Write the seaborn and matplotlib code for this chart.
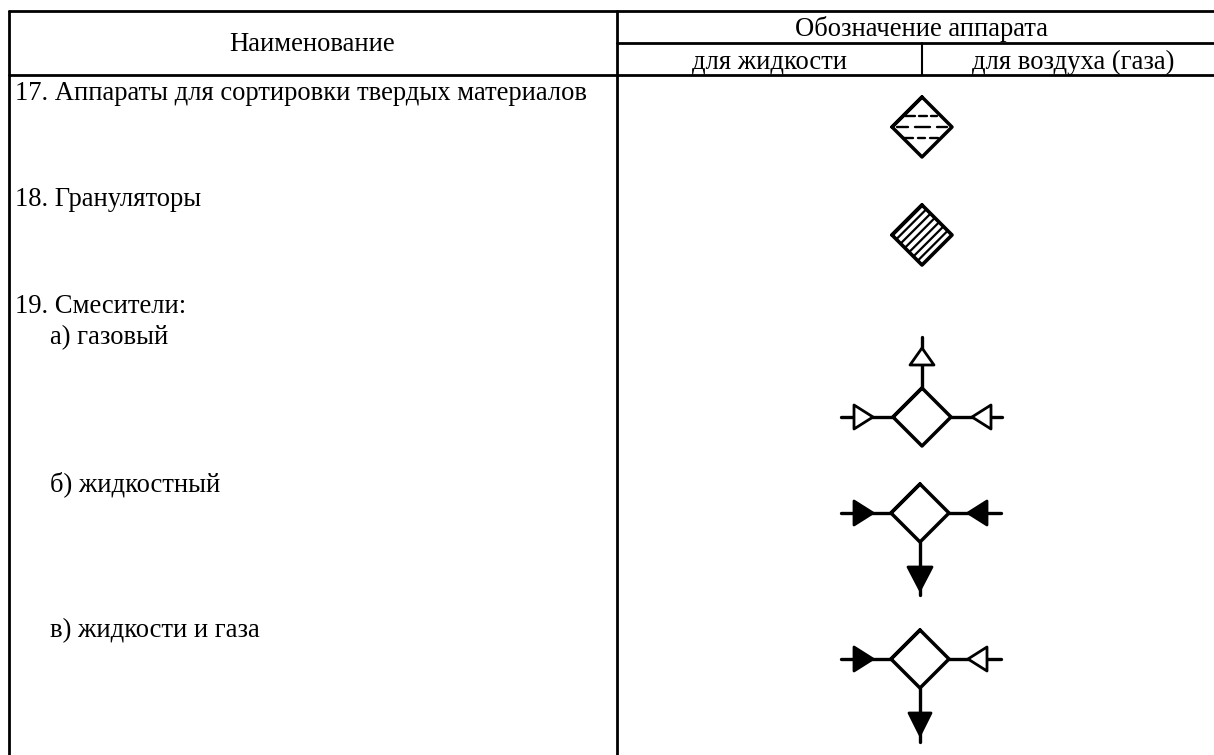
import matplotlib
matplotlib.use("Agg")
import matplotlib.pyplot as plt
import seaborn as sns
import pandas as pd

# table text
header_name = "Наименование"
header_group = "Обозначение аппарата"
header_liquid = "для жидкости"
header_gas = "для воздуха (газа)"
row_labels = ["17. Аппараты для сортировки твердых материалов", "18. Грануляторы", "19. Смесители:",
              "а) газовый", "б) жидкостный", "в) жидкости и газа"]
row_x = [15, 15, 15, 50, 50, 50]
row_y = [99.5, 206.5, 313, 344, 491, 637]

# grid of the table, (x0, y0, x1, y1, width)
grid_lines = [(9, 11, 1214, 11, 2.0), (617, 43, 1214, 43, 2.0), (9, 75, 1214, 75, 2.0),
              (9, 11, 9, 755, 2.0), (617, 11, 617, 755, 2.0), (922, 43, 922, 75, 1.5)]

# dashes inside the sorting symbol, (y, x0, x1)
sort_dashes = [(116, 905, 915), (116, 919, 927), (116, 931, 937),
               (127, 897, 908), (127, 915, 930), (127, 937, 947),
               (138, 903, 913), (138, 918, 925), (138, 930, 938)]

# mixers: centre x, centre y
mixer_x = [922, 920, 920]
mixer_y = [417, 513, 659]
mixer_half = 29

sns.set_theme(style="white")
plt.rcParams['font.family'] = ['Liberation Serif', 'DejaVu Serif']
FS = 19.2

fig = plt.figure(figsize=(12.14, 7.55), dpi=100)
ax = fig.add_axes([0, 0, 1, 1])
ax.set_xlim(0, 1214)
ax.set_ylim(755, 0)
ax.axis("off")


def line(xs, ys, lw=2.0):
    df = pd.DataFrame({"x": xs, "y": ys})
    sns.lineplot(data=df, x="x", y="y", sort=False, estimator=None, color="black",
                 linewidth=lw, ax=ax, legend=False)


def diamond(cx, cy, h, lw=2.5):
    line([cx - h, cx, cx + h, cx, cx - h, cx], [cy, cy - h, cy, cy + h, cy, cy - h], lw)


def tri(pts, filled):
    ax.fill([p[0] for p in pts], [p[1] for p in pts], facecolor="black" if filled else "white",
            edgecolor="black", linewidth=2.0, zorder=5, joinstyle="round")


for x0, y0, x1, y1, w in grid_lines:
    line([x0, x1], [y0, y1], w)

ax.text(312, 50.7, header_name, ha="center", va="baseline", fontsize=FS, color="black")
ax.text(921.5, 36, header_group, ha="center", va="baseline", fontsize=FS, color="black")
ax.text(769, 69, header_liquid, ha="center", va="baseline", fontsize=FS, color="black")
ax.text(1073.5, 69, header_gas, ha="center", va="baseline", fontsize=FS, color="black")
for label, x, y in zip(row_labels, row_x, row_y):
    ax.text(x, y, label, ha="left", va="baseline", fontsize=FS, color="black")

# sorting apparatus, dashed lines across the diamond
diamond(922, 127, 30)
for y, x0, x1 in sort_dashes:
    line([x0, x1], [y, y], 1.7)

# granulator, hatched diamond
diamond(922, 235, 30, 2.6)
for k in [-2.5, -1.5, -0.5, 0.5, 1.5, 2.5]:
    off = k * 30 / 7
    line([922 + off - 14.5, 922 + off + 14.5], [235 + off + 14.5, 235 + off - 14.5], 1.6)

# mixer a, all hollow
cx, cy = mixer_x[0], mixer_y[0]
diamond(cx, cy, mixer_half)
line([841, cx - mixer_half], [cy, cy], 2.4)
line([cx + mixer_half, 1002], [cy, cy], 2.4)
line([cx, cx], [337, cy - mixer_half], 2.4)
tri([(854, cy - 12), (873, cy), (854, cy + 12)], False)
tri([(991, cy - 12), (972, cy), (991, cy + 12)], False)
tri([(cx - 12, 365), (cx, 348), (cx + 12, 365)], False)

# mixer b, all filled
cx, cy = mixer_x[1], mixer_y[1]
diamond(cx, cy, mixer_half)
line([841, cx - mixer_half], [cy, cy], 2.4)
line([cx + mixer_half, 1001], [cy, cy], 2.4)
line([cx, cx], [cy + mixer_half, 595], 2.4)
tri([(854, cy - 12), (873, cy), (854, cy + 12)], True)
tri([(987, cy - 12), (968, cy), (987, cy + 12)], True)
tri([(cx - 12, 567), (cx, 590), (cx + 12, 567)], True)

# mixer c, liquid and gas
cx, cy = mixer_x[2], mixer_y[2]
diamond(cx, cy, mixer_half)
line([841, cx - mixer_half], [cy, cy], 2.4)
line([cx + mixer_half, 1001], [cy, cy], 2.4)
line([cx, cx], [cy + mixer_half, 742], 2.4)
tri([(854, cy - 12), (873, cy), (854, cy + 12)], True)
tri([(987, cy - 12), (968, cy), (987, cy + 12)], False)
tri([(cx - 11, 713), (cx, 735), (cx + 11, 713)], True)

ax.set_xlabel("")
ax.set_ylabel("")
ax.set_xlim(0, 1214)
ax.set_ylim(755, 0)
fig.savefig("out.png", dpi=100)
